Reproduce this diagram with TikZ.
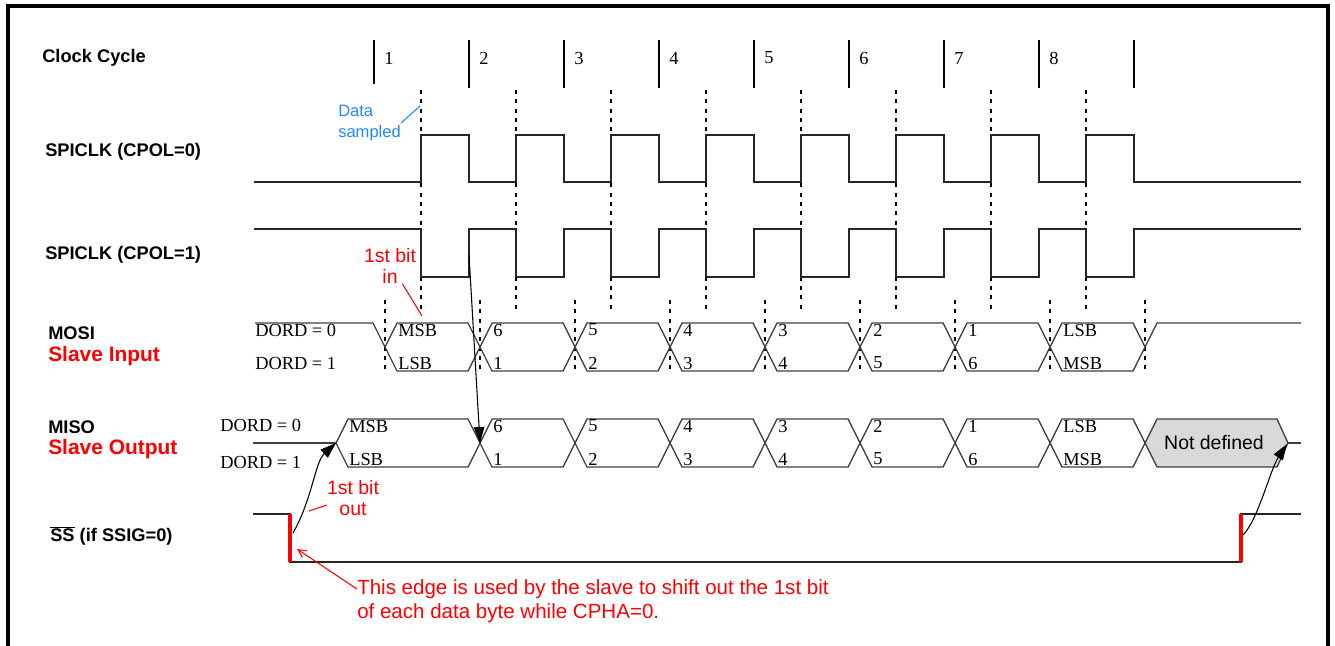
\documentclass[tikz,border=0pt]{standalone}
\usepackage{fontspec}
\setmainfont{Liberation Serif}
\setsansfont{Liberation Sans}
\usetikzlibrary{arrows.meta}
\definecolor{smpblue}{RGB}{30,136,255}
\tikzset{
	lbl/.style={anchor=west, inner sep=0pt, font=\sffamily\bfseries\fontsize{13.7}{16}\selectfont},
	redlbl/.style={lbl, text=red, font=\sffamily\bfseries\fontsize{15.7}{18}\selectfont},
	remark/.style={inner sep=0pt, text=red, font=\sffamily\fontsize{14.6}{15.5}\selectfont, align=center},
	bit/.style={anchor=west, inner sep=0pt, font=\fontsize{13.8}{15}\selectfont},
	clk/.style={line width=1.4pt, black!85},
	sig/.style={line width=1pt, black!75},
	tick/.style={line width=1.3pt},
	sample/.style={line width=1.2pt, dash pattern=on 3pt off 4pt},
	pointer/.style={line width=0.8pt, -{Triangle[length=12pt,width=8pt]}},
}
\def\bitcell[#1](#2:#3:#4)#5#6{%
	\draw[sig] (#2,#4+24) -- (#2+12,#4) -- (#3-12,#4) -- (#3,#4+24) -- (#3-12,#4+48) -- (#2+12,#4+48) -- cycle;
	\node[bit] (#1t) at (#2+13,#4+7) {#5};
	\node[bit] (#1b) at (#2+13,#4+40) {#6};}

\begin{document}
\begin{tikzpicture}[x=0.75pt,y=-0.75pt]
			%%%%% START %%%%%
			\useasboundingbox (0,0) rectangle (1335,646);
			
			\draw[line width=3.6pt] (8,646) -- (8,6) -- (1328,6) -- (1328,646);
			
			\node[lbl] (cycle) at (42,58) {Clock Cycle};
			\node[lbl] (cpol0) at (45,152) {SPICLK (CPOL=0)};
			\node[lbl] (cpol1) at (45,255) {SPICLK (CPOL=1)};
			\node[lbl] (mosi) at (48,333) {MOSI};
			\node[redlbl] (slvin) at (48,356) {Slave Input};
			\node[lbl] (miso) at (48,427) {MISO};
			\node[redlbl] (slvout) at (48,449) {Slave Output};
			\node[lbl] (ss) at (50,536) {$\overline{\mbox{SS}}$ (if SSIG=0)};
			
			\draw[tick] (374,40) -- (374,84) (469,40) -- (469,88) (564,40) -- (564,88) (659,40) -- (659,88) (754,40) -- (754,88)
				(849,40) -- (849,88) (944,40) -- (944,88) (1039,40) -- (1039,88) (1134,40) -- (1134,88);
			\node[bit] (n1) at (384,58) {1};
			\node[bit] (n2) at (479,58) {2};
			\node[bit] (n3) at (574,58) {3};
			\node[bit] (n4) at (669,58) {4};
			\node[bit] (n5) at (764,58) {5};
			\node[bit] (n6) at (859,58) {6};
			\node[bit] (n7) at (954,58) {7};
			\node[bit] (n8) at (1049,58) {8};
			
			\draw[sample] (421,90) -- (421,313) (516,90) -- (516,313) (611,90) -- (611,313) (706,90) -- (706,313)
				(801,90) -- (801,313) (896,90) -- (896,313) (991,90) -- (991,313) (1086,90) -- (1086,313);
			\draw[sample] (385,300) -- (385,373) (480,300) -- (480,373) (575,300) -- (575,373) (670,300) -- (670,373) (765,300) -- (765,373)
				(860,300) -- (860,373) (955,300) -- (955,373) (1050,300) -- (1050,373) (1145,300) -- (1145,373);
			
			% SPICLK, CPOL=0
			\draw[clk] (254,182) -- (421,182) -- (421,135) -- (469,135) -- (469,182) -- (516,182) -- (516,135) -- (564,135) -- (564,182)
				-- (611,182) -- (611,135) -- (659,135) -- (659,182) -- (706,182) -- (706,135) -- (754,135) -- (754,182)
				-- (801,182) -- (801,135) -- (849,135) -- (849,182) -- (896,182) -- (896,135) -- (944,135) -- (944,182)
				-- (991,182) -- (991,135) -- (1039,135) -- (1039,182) -- (1086,182) -- (1086,135) -- (1134,135) -- (1134,182) -- (1301,182);
			% SPICLK, CPOL=1
			\draw[clk] (254,229) -- (421,229) -- (421,277) -- (469,277) -- (469,229) -- (516,229) -- (516,277) -- (564,277) -- (564,229)
				-- (611,229) -- (611,277) -- (659,277) -- (659,229) -- (706,229) -- (706,277) -- (754,277) -- (754,229)
				-- (801,229) -- (801,277) -- (849,277) -- (849,229) -- (896,229) -- (896,277) -- (944,277) -- (944,229)
				-- (991,229) -- (991,277) -- (1039,277) -- (1039,229) -- (1086,229) -- (1086,277) -- (1134,277) -- (1134,229) -- (1301,229);
			
			\node[remark, text=smpblue, font=\sffamily\fontsize{12.4}{15.2}\selectfont, align=left, anchor=west] (smp) at (338,123) {Data\\sampled};
			\coordinate (rise1) at (420,106);
			\draw[smpblue, line width=0.8pt] (smp.east) -- (rise1);
			
			% MOSI
			\node[bit] (mdord0) at (255,330) {DORD = 0};
			\node[bit] (mdord1) at (255,363) {DORD = 1};
			\draw[sig] (255,323) -- (373,323) -- (385,347);
			\bitcell[mo1](385:480:323){MSB}{LSB}
			\bitcell[mo2](480:575:323){6}{1}
			\bitcell[mo3](575:670:323){5}{2}
			\bitcell[mo4](670:765:323){4}{3}
			\bitcell[mo5](765:860:323){3}{4}
			\bitcell[mo6](860:955:323){2}{5}
			\bitcell[mo7](955:1050:323){1}{6}
			\bitcell[mo8](1050:1145:323){LSB}{MSB}
			\draw[sig] (1145,347) -- (1157,323) -- (1301,323);
			
			% MISO
			\node[bit] (sdord0) at (220,425) {DORD = 0};
			\node[bit] (sdord1) at (220,462) {DORD = 1};
			\draw[sig] (253,443) -- (336,443);
			\bitcell[mi1](336:480:419){MSB}{LSB}
			\bitcell[mi2](480:575:419){6}{1}
			\bitcell[mi3](575:670:419){5}{2}
			\bitcell[mi4](670:765:419){4}{3}
			\bitcell[mi5](765:860:419){3}{4}
			\bitcell[mi6](860:955:419){2}{5}
			\bitcell[mi7](955:1050:419){1}{6}
			\bitcell[mi8](1050:1145:419){LSB}{MSB}
			\draw[sig, fill=black!15] (1145,443) -- (1157,419) -- (1277,419) -- (1288,443) -- (1277,467) -- (1157,467) -- cycle;
			\draw[sig] (1288,443) -- (1301,443);
			\node[font=\sffamily\fontsize{14.6}{16}\selectfont, inner sep=0pt] (undef) at (1214,443) {Not defined};
			
			% SS
			\draw[clk] (253,514) -- (290,514) -- (290,562) -- (1241,562) -- (1241,514) -- (1301,514);
			\draw[red, line width=2.3pt] (290,514) -- (290,562);
			\draw[red, line width=2.3pt] (1241,514) -- (1241,562);
			
			\coordinate (clkA) at (469,255);
			\coordinate (misoX) at (480,443);
			\coordinate (ssA) at (293,533);
			\coordinate (misoA) at (336,443);
			\coordinate (ssB) at (1243,535);
			\coordinate (misoB) at (1287,444);
			\coordinate (ssfall) at (297,549);
			\coordinate (outln) at (309,511);
			\coordinate (inln) at (422,316);
			
			\draw[pointer] (clkA) -- (misoX);
			\draw[pointer] (ssA) .. controls (312,500) and (315,462) .. (misoA);
			\draw[pointer] (ssB) .. controls (1258,520) and (1270,470) .. (misoB);
			
			\node[remark] (bitin) at (390,266) {1st bit\\in};
			\draw[red, line width=0.8pt] (bitin.-55) -- (inln);
			\node[remark] (bitout) at (353,498) {1st bit\\out};
			\draw[red, line width=0.8pt] (bitout.195) -- (outln);
			
			\node[remark, anchor=west, font=\sffamily\fontsize{15.4}{18}\selectfont] (note1) at (357,589) {This edge is used by the slave to shift out the 1st bit};
			\node[remark, anchor=west, font=\sffamily\fontsize{15.4}{18}\selectfont] (note2) at (357,613) {of each data byte while CPHA=0.};
			\draw[red, line width=0.8pt, -{Straight Barb[length=6pt,width=6pt]}] (note1.west) -- (ssfall);
			
			%%%%% END %%%%%
\end{tikzpicture}
\end{document}
